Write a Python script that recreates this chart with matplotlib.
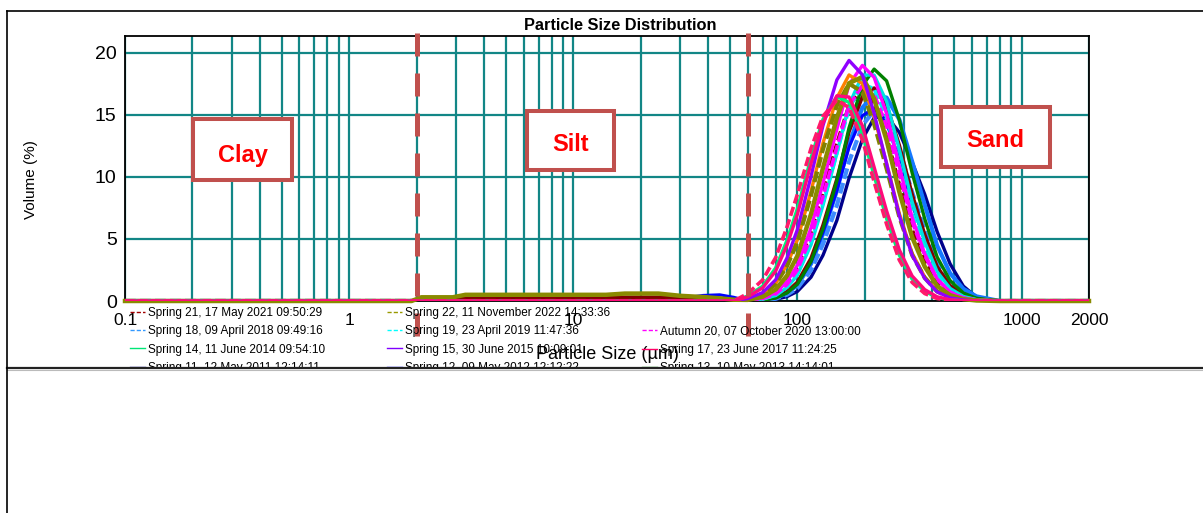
import matplotlib
matplotlib.use('Agg')
import matplotlib.pyplot as plt
from matplotlib.lines import Line2D
from matplotlib.patches import Rectangle
from matplotlib.ticker import FixedLocator, NullFormatter

plt.rcParams['font.family'] = ['Liberation Sans', 'DejaVu Sans']

# particle size grid (um), shared by all runs
sizes = [0.1, 1.0, 1.9, 2.1, 2.9, 3.3, 14, 17, 24, 30, 38, 45, 52,
         60, 70, 80, 90, 100, 115, 130, 150, 170, 195, 220, 250, 285, 325, 370, 420, 480, 550, 630,
         800, 2000]

LOW0 = [0, 0, 0, 0, 0, 0, 0, 0, 0, 0, 0, 0, 0]
END0 = [0, 0]

# volume (%)
spring15 = LOW0 + [0.2, 0.68, 1.71, 3.49, 5.76, 10.05, 14.14, 17.83, 19.4, 18.24, 15.13, 11.08, 6.87, 3.69, 1.82, 0.74, 0.25, 0.08, 0] + END0
magenta_run = LOW0 + [0.06, 0.23, 0.67, 1.56, 2.89, 5.9, 9.5, 13.85, 17.46, 19.0, 18.03, 15.1, 10.85, 6.73, 3.8, 1.79, 0.72, 0.25, 0.08] + END0
spring13 = LOW0 + [0, 0.07, 0.24, 0.65, 1.35, 3.18, 5.81, 9.69, 13.97, 17.37, 18.7, 17.75, 14.59, 10.34, 6.62, 3.55, 1.65, 0.65, 0.22] + END0
cyan_run = LOW0 + [0.04, 0.15, 0.44, 1.09, 2.09, 4.53, 7.7, 11.88, 15.82, 18.22, 18.22, 16.08, 12.21, 8.01, 4.77, 2.37, 1.02, 0.37, 0.11] + END0
orange_run = LOW0 + [0.16, 0.55, 1.41, 2.95, 4.94, 8.84, 12.72, 16.38, 18.23, 17.53, 14.84, 11.11, 7.05, 3.86, 1.94, 0.81, 0.29, 0.09, 0.02] + END0
olive_run = [0, 0, 0, 0.3, 0.3, 0.5, 0.5, 0.6, 0.6, 0.42, 0.32, 0.22, 0.1] + [0.09, 0.34, 0.93, 2.06, 3.64, 7.01, 10.72, 14.76, 17.56, 18.07, 16.29, 12.96, 8.79, 5.15, 2.77, 1.22, 0.47, 0.15, 0.04] + END0
maroon_run = [0, 0, 0, 0.15, 0.15, 0.25, 0.25, 0.3, 0.3, 0.25, 0.2, 0.12, 0.05] + [0, 0.09, 0.29, 0.76, 1.51, 3.44, 6.09, 9.82, 13.67, 16.48, 17.17, 15.81, 12.54, 8.6, 5.35, 2.77, 1.24, 0.48, 0.15] + END0
dodger_run = LOW0 + [0, 0.07, 0.23, 0.63, 1.28, 2.99, 5.4, 8.9, 12.67, 15.6, 16.6, 16.4, 14.64, 11.25, 7.74, 4.48, 2.24, 0.98, 0.37] + END0
spring11 = LOW0 + [0, 0.03, 0.13, 0.36, 0.77, 1.92, 3.68, 6.5, 9.9, 13.04, 14.78, 14.9, 13.6, 11.2, 8.6, 5.6, 3.0, 1.2, 0.3] + END0
spring12 = [0, 0, 0, 0, 0, 0, 0, 0, 0, 0.2, 0.45, 0.5, 0.3] + [0, 0.08, 0.27, 0.69, 1.37, 3.12, 5.52, 8.91, 12.4, 14.94, 15.57, 14.34, 11.37, 7.8, 4.85, 2.51, 1.12, 0.44, 0.14] + END0
spring17 = LOW0 + [0.34, 1.06, 2.42, 4.54, 6.99, 11.09, 14.36, 16.55, 16.45, 14.13, 10.79, 7.27, 4.12, 2.02, 0.92, 0.34, 0.1, 0.03, 0] + END0
pink_dash_run = LOW0 + [0.6, 1.7, 3.5, 6.0, 8.6, 12.3, 14.9, 16.2, 15.6, 13.0, 9.6, 6.2, 3.3, 1.5, 0.6, 0.2, 0.05, 0, 0] + END0
spring14 = LOW0 + [0.4, 1.2, 2.67, 4.93, 7.45, 11.54, 14.64, 16.48, 16.02, 13.46, 10.08, 6.64, 3.69, 1.76, 0.78, 0.28, 0.08, 0.02, 0] + END0
spring22 = LOW0 + [0.15, 0.53, 1.36, 2.83, 4.75, 8.5, 12.23, 15.75, 17.53, 16.86, 14.27, 10.68, 6.78, 3.71, 1.87, 0.77, 0.28, 0.09, 0.02] + END0
spring21 = LOW0 + [0.06, 0.22, 0.65, 1.5, 2.74, 5.53, 8.81, 12.7, 15.79, 17.0, 15.98, 13.26, 9.4, 5.76, 3.23, 1.5, 0.6, 0.2, 0.07] + END0
spring19 = LOW0 + [0.04, 0.16, 0.49, 1.18, 2.25, 4.75, 7.9, 11.93, 15.52, 17.48, 17.12, 14.8, 10.98, 7.04, 4.1, 1.99, 0.83, 0.3, 0.09] + END0
autumn20 = LOW0 + [0.04, 0.19, 0.57, 1.34, 2.51, 5.17, 8.4, 12.39, 15.78, 17.37, 16.67, 14.11, 10.25, 6.42, 3.67, 1.74, 0.71, 0.24, 0.07] + END0
spring18 = LOW0 + [0, 0.06, 0.18, 0.51, 1.03, 2.48, 4.57, 7.7, 11.23, 14.15, 15.37, 14.75, 12.24, 8.79, 5.68, 3.08, 1.45, 0.59, 0.2] + END0

xticks = [0.1, 1, 10, 100, 1000, 2000]
xticklabels = ['0.1', '1', '10', '100', '1000', '2000']
yticks = [0, 5, 10, 15, 20]
boundaries = [2, 60]   # clay/silt, silt/sand

legend_col1 = ['Spring 21, 17 May 2021 09:50:29', 'Spring 18, 09 April 2018 09:49:16',
               'Spring 14, 11 June 2014 09:54:10', 'Spring 11, 12 May 2011 12:14:11']
legend_col2 = ['Spring 22, 11 November 2022 14:33:36', 'Spring 19, 23 April 2019 11:47:36',
               'Spring 15, 30 June 2015 10:09:01', 'Spring 12, 09 May 2012 12:12:22']
legend_col3 = ['Autumn 20, 07 October 2020 13:00:00', 'Spring 17, 23 June 2017 11:24:25',
               'Spring 13, 10 May 2013 14:14:01']

W, H = 1203, 513
fig = plt.figure(figsize=(W / 100, H / 100), dpi=100)
ax = fig.add_axes([125 / W, 1 - 301 / H, 964 / W, 265 / H])

# (values, colour, dashed?, lw)
runs = [
    (spring11, '#00008b', False, 2.4),
    (dodger_run, '#1478ff', False, 3.0),
    (spring18, '#3d8bff', True, 3.0),
    (spring12, '#0000ff', False, 2.2),
    (maroon_run, '#800000', False, 2.6),
    (spring21, '#8b0000', True, 2.6),
    (spring13, '#008000', False, 2.4),
    (cyan_run, '#00e0e0', False, 2.4),
    (spring19, '#00f0f0', True, 2.6),
    (autumn20, '#ff00ff', True, 2.6),
    (magenta_run, '#ff00ff', False, 2.4),
    (orange_run, '#ff8000', False, 2.4),
    (spring22, '#808000', True, 3.0),
    (olive_run, '#8a8a00', False, 3.2),
    (spring15, '#8f00ff', False, 2.4),
    (spring14, '#00f07a', False, 2.4),
    (pink_dash_run, '#ff1a6a', True, 2.6),
    (spring17, '#ff0a7a', False, 2.4),
]
for vals, col, dashed, lw in runs:
    if dashed:
        ax.plot(sizes, vals, color=col, lw=lw, dashes=(2.6, 1.0), zorder=3)
    else:
        ax.plot(sizes, vals, color=col, lw=lw, zorder=3, clip_on=(col != '#8a8a00'))

ax.set_xscale('log')
ax.set_xlim(0.1, 2000)
ax.set_ylim(0, 21.37)
ax.xaxis.set_major_locator(FixedLocator(xticks))
ax.set_xticklabels(xticklabels)
ax.xaxis.set_minor_locator(FixedLocator([m * d for d in [0.1, 1, 10, 100] for m in range(2, 10)]))
ax.xaxis.set_minor_formatter(NullFormatter())
ax.set_yticks(yticks)
ax.tick_params(which='both', length=0)
ax.tick_params(axis='y', labelsize=14, pad=6)
ax.tick_params(axis='x', labelsize=12.5, pad=8.5)
ax.grid(True, which='both', color='#128686', lw=1.6)
ax.set_axisbelow(True)
for sp in ax.spines.values():
    sp.set_color('black')
    sp.set_linewidth(1.3)

for b in boundaries:
    ax.plot([b, b], [21.6, -3.5], color='#c0504d', lw=3.6, dashes=(4.6, 3.4),
            clip_on=False, zorder=4)

ax.set_xlabel('Particle Size (\u00b5m)', fontsize=13)
ax.xaxis.set_label_coords(0.5, -0.17)
ax.set_ylabel('Volume (%)', fontsize=11)
ax.yaxis.set_label_coords(-0.09, 0.46)

fig.text(620 / W, 1 - 26 / H, 'Particle Size Distribution', ha='center', va='center',
         fontsize=11.8, fontweight='bold')

# zone boxes (axes fraction)
zones = [('Clay', 0.0705, 0.4566, 0.1027, 0.2302, -0.022),
         ('Silt', 0.4170, 0.4943, 0.0903, 0.2227, -0.014),
         ('Sand', 0.8465, 0.5057, 0.1130, 0.2263, -0.012)]
for name, x0, y0, w, h, dy in zones:
    ax.add_patch(Rectangle((x0, y0), w, h, transform=ax.transAxes, facecolor='white',
                           edgecolor='#c0504d', lw=2.9, zorder=5))
    ax.text(x0 + w / 2, y0 + h / 2 + dy, name, transform=ax.transAxes, ha='center', va='center',
            color='#ff0000', fontsize=17, fontweight='bold', zorder=6)

# legend, three fixed-width columns
def proxy(col, dashed):
    return Line2D([], [], color=col, lw=1.0, ls=(0, (3, 1.5)) if dashed else '-')

cols = [
    (legend_col1, [proxy('#a00000', True), proxy('#3399ff', True), proxy('#00e676', False), proxy('#00008b', False)], 130, 307),
    (legend_col2, [proxy('#999900', True), proxy('#00ffff', True), proxy('#8000ff', False), proxy('#0000ff', False)], 387, 307),
    (legend_col3, [proxy('#ff00ff', True), proxy('#ff0066', False), proxy('#008000', False)], 642, 325.5),
]
for labels, handles, lx, ly in cols:
    fig.legend(handles, labels, loc='upper left', bbox_to_anchor=(lx / W, 1 - ly / H),
               frameon=False, fontsize=8.5, handlelength=1.3, handletextpad=0.25,
               labelspacing=0.53, borderpad=0, borderaxespad=0)

# lower blank panel and frame lines
fig.add_artist(Rectangle((0, 0), 1, 1 - 368 / H, transform=fig.transFigure,
                         facecolor='white', edgecolor='none', zorder=20))
fig.add_artist(Line2D([7 / W, 1], [1 - 368 / H] * 2, color='#222222', lw=1.6, zorder=21))
fig.add_artist(Line2D([7 / W, 1], [1 - 370 / H] * 2, color='#bbbbbb', lw=0.8, zorder=21))
fig.add_artist(Line2D([7 / W, 1], [1 - 11 / H] * 2, color='black', lw=1.2, zorder=21))
fig.add_artist(Line2D([7 / W] * 2, [0, 1 - 11 / H], color='black', lw=1.2, zorder=21))

fig.savefig('out.png', dpi=100)
